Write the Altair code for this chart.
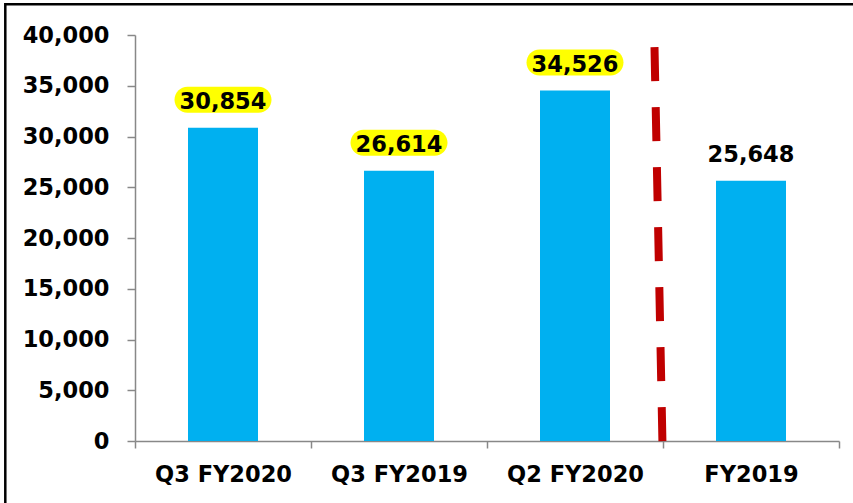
import altair as alt
import pandas as pd

categories = ["Q3 FY2020", "Q3 FY2019", "Q2 FY2020", "FY2019"]
values = [30854, 26614, 34526, 25648]
highlighted = ["Q3 FY2020", "Q3 FY2019", "Q2 FY2020"]
y_ticks = [0, 5000, 10000, 15000, 20000, 25000, 30000, 35000, 40000]
divider_before = "FY2019"
divider_top = 38800

df = pd.DataFrame({"cat": categories, "val": values})

FONT = "DejaVu Sans"
FS = 22.5

x_enc = alt.X(
    "cat:N",
    sort=categories,
    scale=alt.Scale(paddingInner=0, paddingOuter=0),
    axis=alt.Axis(
        title=None,
        labelAngle=0,
        tickBand="extent",
        tickSize=7,
        labelPadding=15,
        domainColor="#888888",
        tickColor="#888888",
        domainWidth=1.5,
        tickWidth=1.5,
        labelFont=FONT,
        labelFontSize=FS,
        labelFontWeight="bold",
        labelColor="black",
    ),
)
y_enc = alt.Y(
    "val:Q",
    scale=alt.Scale(domain=[0, 40000], nice=False),
    axis=alt.Axis(
        title=None,
        values=y_ticks,
        format=",d",
        grid=False,
        tickSize=8,
        labelPadding=18,
        domainColor="#888888",
        tickColor="#888888",
        domainWidth=1.5,
        tickWidth=1.5,
        labelFont=FONT,
        labelFontSize=FS,
        labelFontWeight="bold",
        labelColor="black",
    ),
)

base = alt.Chart(df)

bars = base.mark_bar(color="#00B0F0", width=70).encode(x=x_enc, y=y_enc)

hl = (
    base.transform_filter(alt.FieldOneOfPredicate(field="cat", oneOf=highlighted))
    .mark_bar(color="#FFFF00", width=97, cornerRadius=13, yOffset=-41, y2Offset=-15)
    .encode(x=alt.X("cat:N", sort=categories), y="val:Q", y2="val:Q")
)

labels = base.mark_text(
    font=FONT, fontSize=FS, fontWeight="bold", color="black",
    baseline="alphabetic", dy=-19,
).encode(x=alt.X("cat:N", sort=categories), y="val:Q", text=alt.Text("val:Q", format=",d"))

one = alt.Data(values=[{}])
divider = alt.Chart(one).mark_rule(
    color="#C00000", strokeWidth=8, strokeDash=[34, 26],
    xOffset=-8.5, x2Offset=-0.5, y2Offset=4,
).encode(
    x=alt.X(datum=divider_before, type="nominal", bandPosition=0),
    x2=alt.X2(datum=divider_before, bandPosition=0),
    y=alt.Y(datum=divider_top, type="quantitative"),
    y2=alt.Y2(datum=0),
)

frame = alt.Chart(one).mark_rect(
    fillOpacity=0, stroke="black", strokeWidth=2.5
).encode(
    x=alt.value(-129.7), x2=alt.value(740), y=alt.value(-30.7), y2=alt.value(490)
)

chart = (
    alt.layer(bars, hl, labels, divider, frame)
    .properties(
        width=704,
        height=406,
        padding={"left": 135, "top": 35, "right": 14, "bottom": 62},
        autosize="none",
        background="white",
    )
    .configure_view(stroke=None)
)

chart.save("out.html", embed_options={"renderer": "svg", "actions": False})
